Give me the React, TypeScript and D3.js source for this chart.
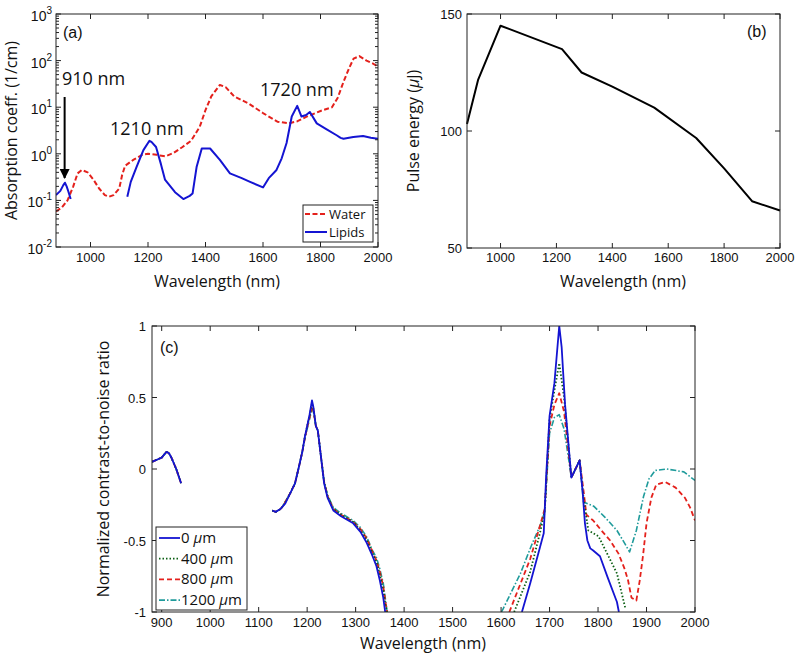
import React from 'react';
import * as d3 from 'd3';

// ---- panel (a): absorption spectra ----
const waterWl = [880, 900, 920, 940, 955, 970, 990, 1010, 1030, 1050, 1065, 1080, 1100, 1110, 1120, 1150, 1180, 1200, 1230, 1260, 1290, 1320, 1350, 1380, 1400, 1420, 1450, 1470, 1500, 1550, 1600, 1650, 1690, 1720, 1750, 1800, 1840, 1860, 1880, 1900, 1915, 1935, 1960, 1980, 2000];
const waterAbs = [0.058, 0.07, 0.1, 0.2, 0.38, 0.45, 0.4, 0.28, 0.18, 0.13, 0.12, 0.13, 0.18, 0.35, 0.55, 0.75, 0.95, 1.0, 0.95, 0.88, 1.05, 1.4, 1.9, 3.8, 8.7, 17, 30, 27, 17, 12, 7.5, 4.9, 4.5, 5, 6.2, 8.3, 10, 16, 35, 70, 110, 125, 100, 88, 74];

const lipidWl1 = [880, 895, 905, 911, 917, 923, 931];
const lipidAbs1 = [0.13, 0.16, 0.21, 0.24, 0.2, 0.155, 0.107];
const lipidWl2 = [1128, 1140, 1160, 1184, 1205, 1212, 1228, 1245, 1259, 1294, 1323, 1345, 1355, 1369, 1387, 1400, 1416, 1450, 1485, 1526, 1555, 1600, 1620, 1647, 1665, 1682, 1700, 1719, 1734, 1750, 1763, 1787, 1820, 1856, 1870, 1880, 1914, 1948, 1975, 2000];
const lipidAbs2 = [0.12, 0.25, 0.52, 1.2, 1.9, 1.8, 1.4, 0.6, 0.28, 0.15, 0.107, 0.125, 0.14, 0.52, 1.3, 1.3, 1.3, 0.74, 0.38, 0.3, 0.25, 0.19, 0.3, 0.45, 0.8, 1.7, 6.3, 10.7, 6.3, 6.8, 7.9, 4.5, 3.4, 2.5, 2.2, 2.1, 2.3, 2.4, 2.2, 2.1];

// ---- panel (b): pulse energy ----
const pulseWl = [880, 920, 1000, 1220, 1290, 1400, 1550, 1700, 1800, 1900, 2000];
const pulseEnergy = [103, 122, 145, 135, 125, 119, 110, 97, 84, 70, 66];

// ---- panel (c): normalized CNR ----
const cnrSeg1Wl = [880, 890, 900, 905, 910, 915, 920, 930, 940];
const cnrSeg1 = [0.05, 0.065, 0.08, 0.1, 0.12, 0.11, 0.08, 0.0, -0.1];

const cnrSeg2Wl = [1128, 1135, 1145, 1150, 1155, 1165, 1175, 1182, 1190, 1195, 1200, 1205, 1210, 1213, 1218, 1222, 1228, 1235, 1242, 1254, 1270, 1295, 1310, 1322, 1335, 1343, 1350, 1357, 1361, 1365];
const cnrSeg2_0 = [-0.29, -0.3, -0.28, -0.26, -0.24, -0.17, -0.1, 0.0, 0.12, 0.22, 0.3, 0.38, 0.48, 0.43, 0.3, 0.27, 0.1, -0.1, -0.2, -0.29, -0.33, -0.38, -0.44, -0.51, -0.61, -0.68, -0.78, -0.9, -1.0, null];
const cnrSeg2_400 = [-0.29, -0.3, -0.28, -0.26, -0.23, -0.17, -0.1, 0.0, 0.12, 0.22, 0.3, 0.37, 0.46, 0.42, 0.3, 0.27, 0.1, -0.09, -0.19, -0.28, -0.32, -0.37, -0.43, -0.49, -0.59, -0.65, -0.74, -0.85, -0.94, -1.0];
const cnrSeg2_800 = [-0.29, -0.3, -0.28, -0.26, -0.23, -0.17, -0.1, 0.0, 0.12, 0.21, 0.29, 0.36, 0.44, 0.41, 0.3, 0.27, 0.1, -0.09, -0.19, -0.28, -0.32, -0.37, -0.42, -0.48, -0.58, -0.64, -0.72, -0.82, -0.92, -1.0];
const cnrSeg2_1200 = [-0.29, -0.3, -0.28, -0.26, -0.23, -0.17, -0.1, 0.0, 0.12, 0.21, 0.28, 0.35, 0.42, 0.4, 0.3, 0.27, 0.1, -0.09, -0.18, -0.27, -0.31, -0.36, -0.41, -0.47, -0.57, -0.62, -0.7, -0.8, -0.9, -1.0];

const cnrSeg3Wl_0 = [1643, 1660, 1680, 1688, 1693, 1700, 1710, 1720, 1725, 1732, 1745, 1762, 1768, 1773, 1778, 1784, 1790, 1804, 1820, 1839, 1843];
const cnrSeg3_0 = [-1.0, -0.8, -0.55, -0.45, -0.05, 0.37, 0.6, 1.0, 0.85, 0.45, -0.06, 0.06, -0.15, -0.38, -0.5, -0.555, -0.57, -0.61, -0.76, -0.93, -1.0];
const cnrSeg3Wl_400 = [1627, 1660, 1680, 1690, 1700, 1710, 1720, 1730, 1745, 1762, 1770, 1780, 1801, 1820, 1839, 1856];
const cnrSeg3_400 = [-1.0, -0.72, -0.45, -0.3, 0.35, 0.55, 0.74, 0.5, -0.06, 0.06, -0.2, -0.43, -0.47, -0.6, -0.73, -0.97];
const cnrSeg3Wl_800 = [1617, 1660, 1680, 1690, 1700, 1710, 1720, 1730, 1745, 1762, 1770, 1776, 1790, 1807, 1825, 1842, 1855, 1862, 1869, 1879, 1886, 1893, 1900, 1910, 1920, 1938, 1960, 1979, 1990, 2000];
const cnrSeg3_800 = [-1.0, -0.63, -0.4, -0.28, 0.3, 0.45, 0.53, 0.4, -0.06, 0.06, -0.15, -0.32, -0.36, -0.43, -0.5, -0.59, -0.7, -0.78, -0.9, -0.92, -0.78, -0.6, -0.38, -0.2, -0.11, -0.09, -0.13, -0.2, -0.27, -0.36];
const cnrSeg3Wl_1200 = [1601, 1640, 1662, 1680, 1690, 1700, 1710, 1720, 1730, 1745, 1762, 1770, 1791, 1815, 1839, 1855, 1865, 1879, 1894, 1905, 1918, 1942, 1977, 2000];
const cnrSeg3_1200 = [-1.0, -0.73, -0.54, -0.4, -0.3, 0.25, 0.36, 0.38, 0.28, -0.06, 0.06, -0.23, -0.26, -0.34, -0.43, -0.52, -0.58, -0.43, -0.19, -0.07, -0.01, 0.0, -0.02, -0.08];

const depthLabels = ['0', '400', '800', '1200'];

const TICK_FONT = '"Liberation Sans", Arial, sans-serif';
const LABEL_FONT = '"Open Sans", sans-serif';
const FRAME = '#222';

const RED = '#e4211c';
const BLUE = '#1414d2';
const GREEN = '#0b5e12';
const TEAL = '#1f9b9b';

type Pt = [number, number | null];
const zip = (xs: number[], ys: (number | null)[]): Pt[] => xs.map((x, i) => [x, ys[i]]);

function Frame({ x, y, xTicks, yTicks, minorY }: any) {
  const [x0, x1] = x.range();
  const [y0, y1] = y.range(); // y0 bottom, y1 top
  const tl = 5;
  return (
    <g stroke={FRAME} strokeWidth={1} fill="none">
      <rect x={x0} y={y1} width={x1 - x0} height={y0 - y1} />
      {xTicks.map((t: number) => (
        <g key={'x' + t}>
          <line x1={x(t)} x2={x(t)} y1={y0} y2={y0 - tl} />
          <line x1={x(t)} x2={x(t)} y1={y1} y2={y1 + tl} />
        </g>
      ))}
      {yTicks.map((t: number) => (
        <g key={'y' + t}>
          <line x1={x0} x2={x0 + tl} y1={y(t)} y2={y(t)} />
          <line x1={x1} x2={x1 - tl} y1={y(t)} y2={y(t)} />
        </g>
      ))}
      {(minorY || []).map((t: number) => (
        <g key={'m' + t}>
          <line x1={x0} x2={x0 + 3} y1={y(t)} y2={y(t)} />
          <line x1={x1} x2={x1 - 3} y1={y(t)} y2={y(t)} />
        </g>
      ))}
    </g>
  );
}

function XTickLabels({ x, ticks, yBase }: any) {
  return (
    <g fontFamily={TICK_FONT} fontSize={13} fill="#111" textAnchor="middle">
      {ticks.map((t: number) => (
        <text key={t} x={x(t)} y={yBase}>{t}</text>
      ))}
    </g>
  );
}

export default function App() {
  // panel (a)
  const xa = d3.scaleLinear().domain([880, 2000]).range([56, 378]);
  const ya = d3.scaleLog().domain([0.01, 1000]).range([247, 14]);
  const lineA = d3.line<Pt>().defined(d => d[1] != null).x(d => xa(d[0])).y(d => ya(d[1] as number));
  const decades = [0.01, 0.1, 1, 10, 100, 1000];
  const minorA: number[] = [];
  decades.slice(0, 5).forEach(dv => [2, 3, 4, 5, 6, 7, 8, 9].forEach(m => minorA.push(dv * m)));
  const xTicksA = [1000, 1200, 1400, 1600, 1800, 2000];

  // panel (b)
  const xb = d3.scaleLinear().domain([880, 2000]).range([467, 780]);
  const yb = d3.scaleLinear().domain([50, 150]).range([248, 14]);
  const lineB = d3.line<Pt>().x(d => xb(d[0])).y(d => yb(d[1] as number));

  // panel (c)
  const xc = d3.scaleLinear().domain([880, 2000]).range([152, 695]);
  const yc = d3.scaleLinear().domain([-1, 1]).range([612, 326]);
  const lineC = d3.line<Pt>().defined(d => d[1] != null).x(d => xc(d[0])).y(d => yc(d[1] as number));
  const xTicksC = d3.range(900, 2001, 100);
  const yTicksC = [-1, -0.5, 0, 0.5, 1];

  const cnrSeries = [
    { seg2: cnrSeg2_1200, wl3: cnrSeg3Wl_1200, seg3: cnrSeg3_1200, color: TEAL, dash: '6,2,1.5,2', w: 1.6 },
    { seg2: cnrSeg2_800, wl3: cnrSeg3Wl_800, seg3: cnrSeg3_800, color: RED, dash: '5,3', w: 1.8 },
    { seg2: cnrSeg2_400, wl3: cnrSeg3Wl_400, seg3: cnrSeg3_400, color: GREEN, dash: '1.5,2', w: 1.8 },
    { seg2: cnrSeg2_0, wl3: cnrSeg3Wl_0, seg3: cnrSeg3_0, color: BLUE, dash: null, w: 1.8 },
  ];
  const legendC = [
    { color: BLUE, dash: null },
    { color: GREEN, dash: '1.5,2' },
    { color: RED, dash: '5,3' },
    { color: TEAL, dash: '6,2,1.5,2' },
  ];

  return (
    <svg width={798} height={658} style={{ position: 'absolute', left: 0, top: 0, background: '#fff' }}>
      <defs>
        <clipPath id="clipA"><rect x={56} y={14} width={322} height={233} /></clipPath>
        <clipPath id="clipC"><rect x={152} y={326} width={543} height={286} /></clipPath>
        <marker id="arrowHead" viewBox="0 0 10 10" refX={9} refY={5} markerWidth={5} markerHeight={5} orient="auto">
          <path d="M0,0 L10,5 L0,10 z" fill="#000" />
        </marker>
      </defs>

      {/* ---------- (a) ---------- */}
      <g clipPath="url(#clipA)" fill="none" strokeLinejoin="round">
        <path d={lineA(zip(waterWl, waterAbs)) || ''} stroke={RED} strokeWidth={2} strokeDasharray="5,2.5" />
        <path d={lineA(zip(lipidWl1, lipidAbs1)) || ''} stroke={BLUE} strokeWidth={2} />
        <path d={lineA(zip(lipidWl2, lipidAbs2)) || ''} stroke={BLUE} strokeWidth={2} />
      </g>
      <Frame x={xa} y={ya} xTicks={xTicksA} yTicks={decades} minorY={minorA} />
      <XTickLabels x={xa} ticks={xTicksA} yBase={262} />
      <g fontFamily={TICK_FONT} fontSize={14} fill="#111" textAnchor="end">
        {decades.map(dv => {
          const e = Math.round(Math.log10(dv));
          return (
            <text key={dv} x={52} y={ya(dv) + 7}>
              10<tspan fontSize={10} dy={-7}>{e}</tspan>
            </text>
          );
        })}
      </g>
      <text x={217} y={287} textAnchor="middle" fontFamily={LABEL_FONT} fontSize={16} fill="#111">Wavelength (nm)</text>
      <text transform={`translate(17,${(14 + 247) / 2}) rotate(-90)`} textAnchor="middle" fontFamily={LABEL_FONT} fontSize={16} fill="#111">Absorption coeff. (1/cm)</text>
      <text x={63} y={38} fontFamily={TICK_FONT} fontSize={16} fill="#111">(a)</text>
      <g fontFamily={LABEL_FONT} fontSize={18} fill="#111">
        <text x={62} y={85}>910 nm</text>
        <text x={110} y={135}>1210 nm</text>
        <text x={260} y={96}>1720 nm</text>
      </g>
      <line x1={xa(910)} x2={xa(910)} y1={97} y2={178} stroke="#000" strokeWidth={2} markerEnd="url(#arrowHead)" />
      {/* legend (a) */}
      <g>
        <rect x={303} y={205} width={70} height={37} fill="#fff" stroke={FRAME} />
        <line x1={305} x2={327} y1={214} y2={214} stroke={RED} strokeWidth={2} strokeDasharray="5,2.5" />
        <line x1={305} x2={327} y1={232} y2={232} stroke={BLUE} strokeWidth={2} />
        <text x={329} y={219} fontFamily={LABEL_FONT} fontSize={13} fill="#111">Water</text>
        <text x={329} y={237} fontFamily={LABEL_FONT} fontSize={13} fill="#111">Lipids</text>
      </g>

      {/* ---------- (b) ---------- */}
      <path d={lineB(zip(pulseWl, pulseEnergy)) || ''} fill="none" stroke="#000" strokeWidth={2} strokeLinejoin="round" />
      <Frame x={xb} y={yb} xTicks={xTicksA} yTicks={[50, 100, 150]} />
      <XTickLabels x={xb} ticks={xTicksA} yBase={262} />
      <g fontFamily={TICK_FONT} fontSize={13} fill="#111" textAnchor="end">
        {[50, 100, 150].map(t => (
          <text key={t} x={462} y={yb(t) + 5}>{t}</text>
        ))}
      </g>
      <text x={623} y={287} textAnchor="middle" fontFamily={LABEL_FONT} fontSize={16} fill="#111">Wavelength (nm)</text>
      <text transform={`translate(419,${(14 + 248) / 2}) rotate(-90)`} textAnchor="middle" fontFamily={LABEL_FONT} fontSize={16} fill="#111">
        Pulse energy (<tspan fontStyle="italic">μ</tspan>J)
      </text>
      <text x={747} y={37} fontFamily={TICK_FONT} fontSize={16} fill="#111">(b)</text>

      {/* ---------- (c) ---------- */}
      <g clipPath="url(#clipC)" fill="none" strokeLinejoin="round">
        {cnrSeries.map((s, i) => (
          <g key={i} stroke={s.color} strokeWidth={s.w} strokeDasharray={s.dash || undefined}>
            <path d={lineC(zip(cnrSeg1Wl, cnrSeg1)) || ''} />
            <path d={lineC(zip(cnrSeg2Wl, s.seg2)) || ''} />
            <path d={lineC(zip(s.wl3, s.seg3)) || ''} />
          </g>
        ))}
      </g>
      <Frame x={xc} y={yc} xTicks={xTicksC} yTicks={yTicksC} />
      <XTickLabels x={xc} ticks={xTicksC} yBase={627} />
      <g fontFamily={TICK_FONT} fontSize={13} fill="#111" textAnchor="end">
        {yTicksC.map(t => (
          <text key={t} x={146} y={yc(t) + 5}>{t}</text>
        ))}
      </g>
      <text x={423} y={649} textAnchor="middle" fontFamily={LABEL_FONT} fontSize={16} fill="#111">Wavelength (nm)</text>
      <text transform={`translate(109,${(326 + 612) / 2}) rotate(-90)`} textAnchor="middle" fontFamily={LABEL_FONT} fontSize={16} fill="#111">Normalized contrast-to-noise ratio</text>
      <text x={160} y={353} fontFamily={TICK_FONT} fontSize={16} fill="#111">(c)</text>
      {/* legend (c) */}
      <g>
        <rect x={156} y={527} width={91} height={83} fill="#fff" stroke={FRAME} />
        {legendC.map((l, i) => (
          <g key={i}>
            <line x1={159} x2={180} y1={538 + i * 20.7} y2={538 + i * 20.7} stroke={l.color} strokeWidth={1.8} strokeDasharray={l.dash || undefined} />
            <text x={181} y={543 + i * 20.7} fontFamily={LABEL_FONT} fontSize={15} fill="#111">
              {depthLabels[i]} <tspan fontStyle="italic">μ</tspan>m
            </text>
          </g>
        ))}
      </g>
    </svg>
  );
}
